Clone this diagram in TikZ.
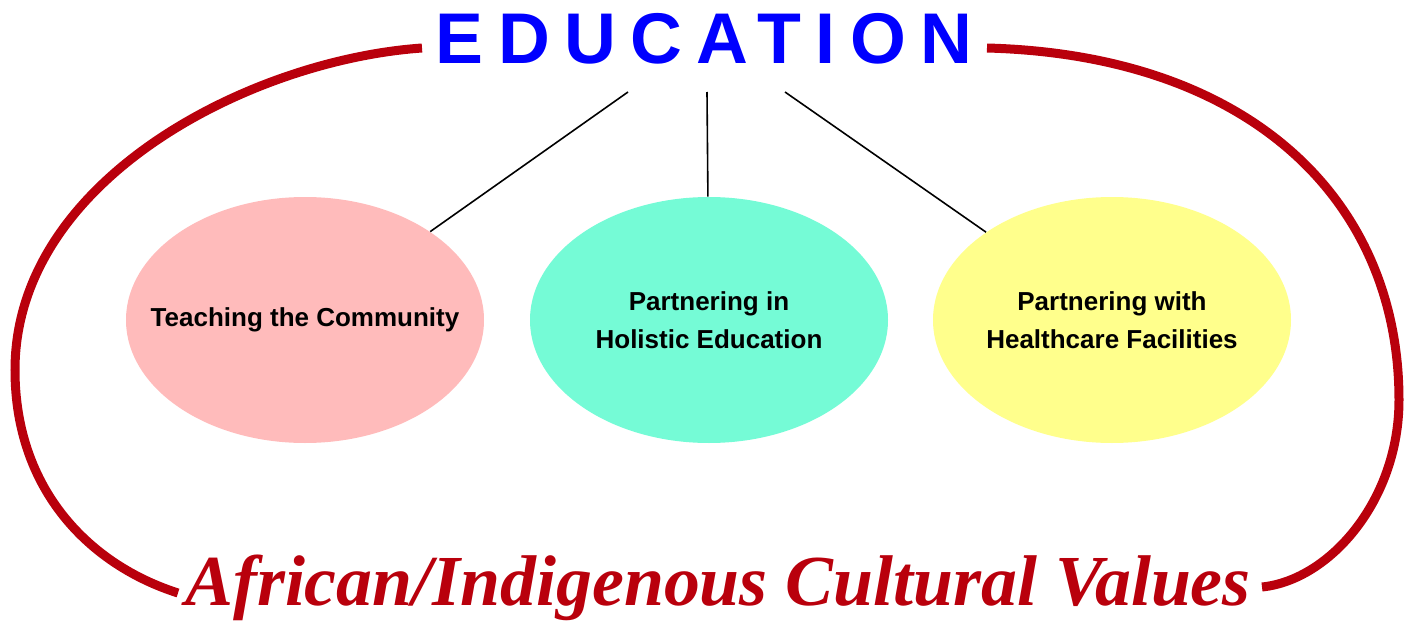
\documentclass[tikz,border=0pt]{standalone}
\usepackage{fontspec}
\setmainfont{Liberation Sans}
\newfontfamily\titlefont[LetterSpace=20]{Liberation Sans}
\newfontfamily\valuefont{Liberation Serif}
\usetikzlibrary{shapes.geometric}
\definecolor{valred}{RGB}{185,0,12}
\definecolor{edublue}{RGB}{0,0,255}
\definecolor{teachpink}{RGB}{255,187,187}
\definecolor{holiaqua}{RGB}{117,251,214}
\definecolor{healyellow}{RGB}{255,255,140}
\tikzset{
	ellnode/.style={ellipse, minimum width=179pt, minimum height=123pt, inner xsep=-16pt, inner ysep=0pt, align=center, font=\fontsize{13}{19}\selectfont\bfseries}
}
\tikzset{
	loopline/.style={valred, line width=4.5pt}
}
\begin{document}
\begin{tikzpicture}[x=0.5pt,y=-0.5pt]
			\useasboundingbox (0,0) rectangle (1405,621);
			\draw [loopline] (422,48) .. controls (250,60) and (15,180) .. (15,370) .. controls (15,490) and (90,565) .. (178,593);
			\draw [loopline] (987,48) .. controls (1250,55) and (1399,200) .. (1399,400) .. controls (1399,500) and (1330,580) .. (1262,587);
			\node[anchor=base, text=edublue, font=\titlefont\bfseries\fontsize{35.9}{40}\selectfont] (edu) at (704,63) {EDUCATION};
			\node[ellnode, fill=teachpink] (teach) at (305,320) {Teaching the Community};
			\node[ellnode, fill=holiaqua] (holist) at (709,320) {Partnering in\\Holistic Education};
			\node[ellnode, fill=healyellow] (health) at (1112,320) {Partnering with\\Healthcare Facilities};
			\coordinate (e1) at (628,92);
			\coordinate (e2) at (707,92);
			\coordinate (e3) at (785,92);
			\draw [line width=0.8pt] (e1) -- (teach);
			\draw [line width=0.8pt] (e2) -- (holist);
			\draw [line width=0.8pt] (e3) -- (health);
			\node[anchor=base, text=valred, font=\valuefont\bfseries\itshape\fontsize{35.9}{40}\selectfont] (values) at (718,605) {African/Indigenous Cultural Values};
\end{tikzpicture}
\end{document}
